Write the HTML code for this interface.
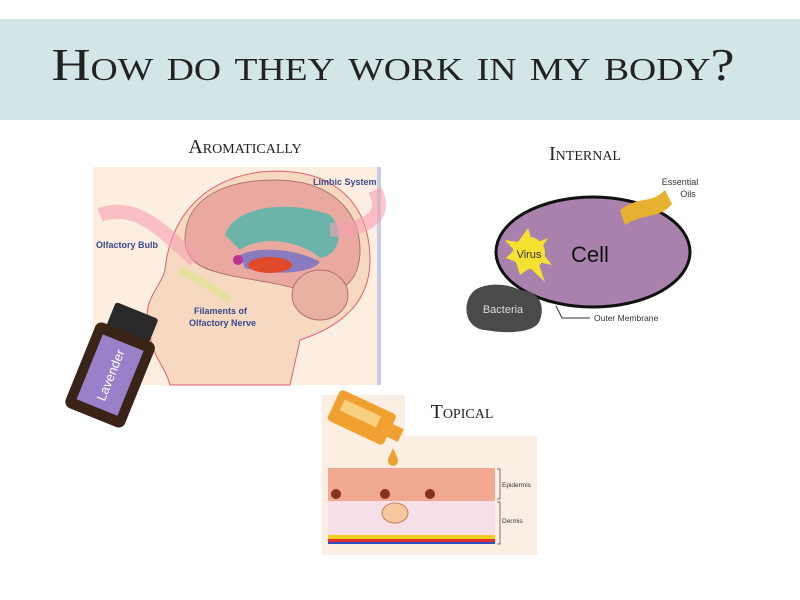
<!DOCTYPE html>
<html><head><meta charset="utf-8"><style>
html,body{margin:0;padding:0;background:#fff;width:800px;height:600px;overflow:hidden}
svg{display:block}
.sc{font-family:"Liberation Serif",serif;font-variant:small-caps;fill:#222}
.ss{font-family:"Liberation Sans",sans-serif}
</style></head><body>
<svg width="800" height="600" viewBox="0 0 800 600" xmlns="http://www.w3.org/2000/svg">
<rect x="0" y="19" width="800" height="101" fill="#d2e6e8"/>
<text x="393" y="80" text-anchor="middle" class="sc" font-size="46" textLength="683" lengthAdjust="spacingAndGlyphs">How do they work in my body?</text>

<!-- Aromatically -->
<text x="245" y="153" text-anchor="middle" class="sc" font-size="20">Aromatically</text>
<rect x="93" y="167" width="287" height="218" fill="#fdeee2"/>
<rect x="377" y="167" width="4" height="218" fill="#c8cce8"/>
<path d="M150 330 C140 300 160 290 165 270 C170 220 200 180 260 172 C330 165 370 200 370 260 C370 310 330 330 300 340 L290 385 L170 385 C165 365 150 355 150 330Z" fill="#f6d9c0" stroke="#e06070" stroke-width="1"/>
<path d="M185 240 C185 195 230 180 275 180 C330 180 360 210 360 250 C360 290 330 300 300 290 C270 280 240 280 210 270 C195 265 185 255 185 240Z" fill="#e9a9a0" stroke="#b07070"/>
<path d="M225 235 C235 205 290 200 330 215 C345 230 340 255 320 258 C300 240 260 235 240 250Z" fill="#6bb3a8"/>
<path d="M240 255 C260 245 300 250 320 262 C310 275 270 275 245 268Z" fill="#8a7bc0"/>
<ellipse cx="270" cy="265" rx="22" ry="8" fill="#e04a2a"/>
<circle cx="238" cy="260" r="5" fill="#c03090"/>
<ellipse cx="320" cy="295" rx="28" ry="25" fill="#e8b0a0" stroke="#b07070"/>
<path d="M180 270 C200 280 215 290 230 300" stroke="#e6e0a0" stroke-width="8" fill="none"/>
<path d="M100 215 C140 200 170 240 195 260" stroke="#f6a0b0" stroke-width="14" fill="none" opacity=".6"/>
<path d="M375 190 C390 220 360 230 330 230" stroke="#f6a0b0" stroke-width="14" fill="none" opacity=".6"/>
<text x="96" y="248" class="ss" font-size="9" font-weight="bold" fill="#3a4a90">Olfactory Bulb</text>
<text x="313" y="185" class="ss" font-size="9" font-weight="bold" fill="#3a4a90">Limbic System</text>
<text x="194" y="314" class="ss" font-size="9" font-weight="bold" fill="#3a4a90">Filaments of</text>
<text x="189" y="326" class="ss" font-size="9" font-weight="bold" fill="#3a4a90">Olfactory Nerve</text>
<!-- bottle -->
<g transform="rotate(22 112 365)">
<rect x="92" y="305" width="46" height="26" rx="3" fill="#2a2a2a"/>
<rect x="82" y="329" width="64" height="92" rx="7" fill="#3a2418"/>
<rect x="92" y="340" width="44" height="70" fill="#9a80c8"/>
<text x="0" y="0" transform="translate(119 402) rotate(-90)" class="ss" font-size="13" fill="#fff">Lavender</text>
</g>

<!-- Internal -->
<text x="585" y="160" text-anchor="middle" class="sc" font-size="20">Internal</text>
<ellipse cx="593" cy="252" rx="97" ry="55" fill="#a882ad" stroke="#111" stroke-width="3"/>
<path d="M620 210 C640 195 650 205 665 190 L672 204 C658 220 645 212 625 225Z" fill="#e8b030"/>
<path d="M528 228 L533 244 L548 238 L540 250 L552 265 L538 262 L545 282 L530 268 L520 275 L516 262 L506 258 L514 250 L505 240 L518 242Z" fill="#f6e030"/>
<circle cx="529" cy="253" r="16" fill="#f6e030"/>
<text x="529" y="258" text-anchor="middle" class="ss" font-size="11" fill="#333">Virus</text>
<text x="590" y="262" text-anchor="middle" class="ss" font-size="22" fill="#111">Cell</text>
<text x="680" y="185" text-anchor="middle" class="ss" font-size="9" fill="#333">Essential</text>
<text x="688" y="197" text-anchor="middle" class="ss" font-size="9" fill="#333">Oils</text>
<path d="M472 293 C480 283 505 282 520 290 C540 292 545 305 540 320 C535 335 500 333 485 330 C465 328 462 305 472 293Z" fill="#4a4a4a"/>
<text x="503" y="313" text-anchor="middle" class="ss" font-size="11" fill="#ddd">Bacteria</text>
<path d="M556 306 L562 318 L590 318" stroke="#333" fill="none"/>
<text x="594" y="321" class="ss" font-size="8.5" fill="#333">Outer Membrane</text>

<!-- Topical -->
<rect x="322" y="395" width="215" height="160" fill="#fbeee2"/>
<rect x="405" y="395" width="132" height="41" fill="#fff"/>
<text x="462" y="418" text-anchor="middle" class="sc" font-size="20">Topical</text>
<g transform="rotate(25 365 420)">
<rect x="330" y="402" width="62" height="34" rx="4" fill="#f0a030"/>
<rect x="338" y="410" width="40" height="12" fill="#f8d080"/>
<rect x="392" y="412" width="12" height="14" fill="#f0a030"/>
</g>
<path d="M393 448 C390 455 388 458 388 461 A5 5 0 0 0 398 461 C398 458 396 455 393 448Z" fill="#f0a030"/>
<rect x="328" y="468" width="167" height="33" fill="#f0a890"/>
<rect x="328" y="501" width="167" height="42" fill="#f8e0e8"/>
<rect x="328" y="535" width="167" height="4" fill="#f6d020"/>
<rect x="328" y="539" width="167" height="3" fill="#e03030"/>
<rect x="328" y="542" width="167" height="2" fill="#3050c0"/>
<ellipse cx="395" cy="513" rx="13" ry="10" fill="#f6c8a0" stroke="#c08060"/>
<circle cx="385" cy="494" r="5" fill="#8a3020"/><circle cx="430" cy="494" r="5" fill="#8a3020"/><circle cx="336" cy="494" r="5" fill="#8a3020"/>
<path d="M497 469 L500 469 L500 499 L497 499 M497 502 L500 502 L500 544 L497 544" stroke="#555" fill="none" stroke-width=".8"/>
<text x="502" y="487" class="ss" font-size="6.5" fill="#333">Epidermis</text>
<text x="502" y="523" class="ss" font-size="6.5" fill="#333">Dermis</text>
</svg>
</body></html>
